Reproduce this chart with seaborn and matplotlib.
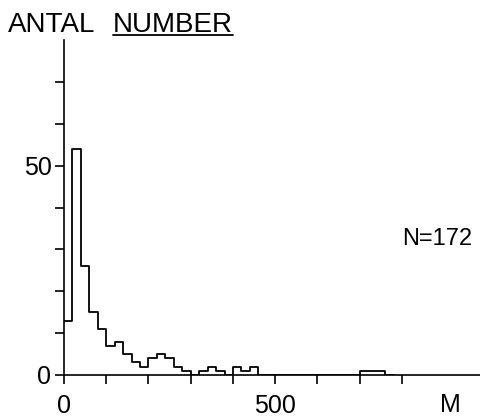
import numpy as np
import pandas as pd
import seaborn as sns
import matplotlib
matplotlib.use("Agg")
import matplotlib.pyplot as plt
from matplotlib.lines import Line2D

# histogram: bins of 20 m, counts per bin
bin_width = 20
bin_starts = list(range(0, 780, bin_width))
counts = [13, 54, 26, 15, 11, 7, 8, 5, 3, 2,
          4, 5, 4, 2, 1, 0, 1, 2, 1, 0,
          2, 1, 2, 0, 0, 0, 0, 0, 0, 0,
          0, 0, 0, 0, 0, 1, 1, 1, 0]
n_total = 172

x_ticks = list(range(0, 900, 100))
x_labels = ["0", "", "", "", "", "500", "", "", ""]
y_ticks = list(range(0, 80, 10))
y_labels = ["0", "", "", "", "", "50", "", ""]

df = pd.DataFrame({"start": bin_starts, "count": counts})

sns.set_style("ticks")
plt.rcParams["font.family"] = ["Liberation Sans", "DejaVu Sans"]

W, H = 481, 417
fig = plt.figure(figsize=(W / 100, H / 100), dpi=100)
ax = fig.add_axes([64 / W, (H - 375) / H, (W - 64) / W, (375 - 40) / H])

sns.histplot(
    data=df, x="start", weights="count",
    bins=bin_starts + [bin_starts[-1] + bin_width],
    element="step", fill=False, color="black", linewidth=1.3, ax=ax
)

ax.set_xlim(0, 987)
ax.set_ylim(0, 80)
ax.set_xticks(x_ticks)
ax.set_xticklabels(x_labels)
ax.set_yticks(y_ticks)
ax.set_yticklabels(y_labels)
ax.set_xlabel("")
ax.set_ylabel("")
for side in ["top", "right"]:
    ax.spines[side].set_visible(False)
for side in ["left", "bottom"]:
    ax.spines[side].set_linewidth(1.2)
    ax.spines[side].set_color("black")
ax.tick_params(axis="both", direction="out", length=6.5, width=1.2, color="black",
               labelsize=18, labelcolor="black")
ax.tick_params(axis="x", pad=7)
ax.tick_params(axis="y", pad=2.5)

ax.text(915, -4.3, "M", ha="center", va="top", fontsize=18, color="black")
ax.text(800, 32.4, f"N={n_total}", ha="left", va="center", fontsize=17, color="black")

# title with underlined English word
fig.text(8 / W, 1 - 12 / H, "ANTAL", ha="left", va="top", fontsize=20, color="black")
t2 = fig.text(113 / W, 1 - 12 / H, "NUMBER", ha="left", va="top", fontsize=20, color="black")
fig.canvas.draw()
bb = t2.get_window_extent(renderer=fig.canvas.get_renderer()).transformed(fig.transFigure.inverted())
fig.add_artist(Line2D([bb.x0, bb.x1], [1 - 35 / H, 1 - 35 / H], transform=fig.transFigure,
                      color="black", linewidth=1.3))

fig.savefig("out.png", dpi=100)
